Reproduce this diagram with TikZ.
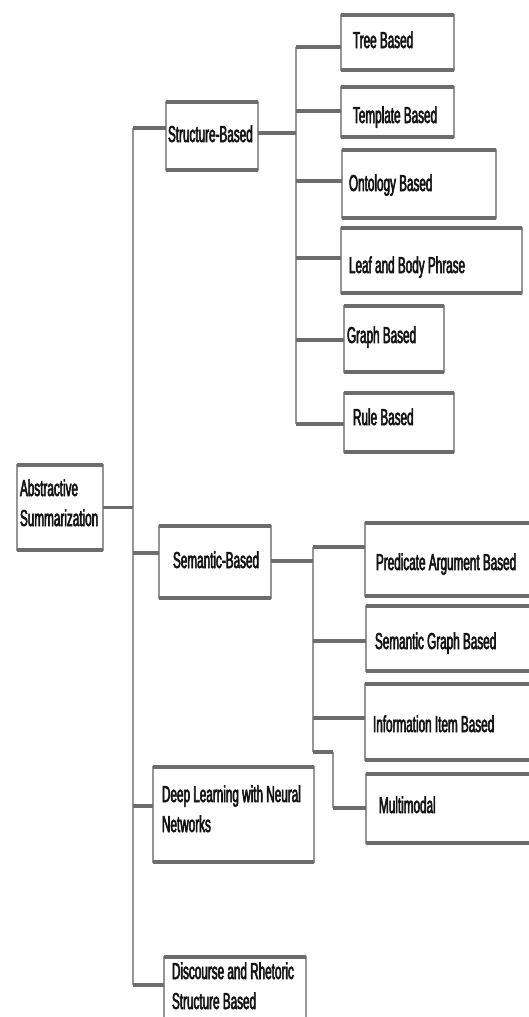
\documentclass[tikz,border=0pt]{standalone}
\usepackage{fontspec}
\setmainfont{Liberation Sans}[FakeStretch=0.51,FakeBold=2.5]
\definecolor{edgedark}{RGB}{108,108,108}
\definecolor{edgelight}{RGB}{150,150,150}
\definecolor{txt}{RGB}{20,20,20}
\tikzset{
  box/.style={draw=edgelight,line width=2pt,fill=white,rectangle,inner sep=0pt,outer sep=0pt},
  hedge/.style={draw=edgedark,line width=4pt,line cap=butt},
  hcon/.style={draw=edgedark,line width=3.5pt,line cap=butt},
  vcon/.style={draw=edgelight,line width=2pt,line cap=butt},
  lbl/.style={anchor=base west,inner sep=0pt,outer sep=0pt,text=txt,
    font=\fontsize{23}{30}\selectfont}
}
\newcommand{\twoline}[2]{\begin{tabular}[t]{@{}l@{}}#1\\#2\end{tabular}}
\begin{document}
\begin{tikzpicture}[x=1pt,y=-1pt]
\useasboundingbox (0,0) rectangle (529,1017);
\fill[white] (0,0) rectangle (529,1017);
\clip (0,0) rectangle (529,1017);

% trunk coordinates
\coordinate (tTop) at (133,128);
\coordinate (tAbs) at (133,507);
\coordinate (tSem) at (133,553);
\coordinate (tDeep) at (133,806);
\coordinate (tBot) at (133,985);
% structure branch coordinates
\coordinate (sJ) at (296,133);
\coordinate (sTree) at (296,47);
\coordinate (sTempl) at (296,111);
\coordinate (sOnto) at (296,181);
\coordinate (sLeaf) at (296,258);
\coordinate (sGraph) at (296,340);
\coordinate (sRule) at (296,424);
% semantic branch coordinates
\coordinate (mJ) at (313,561);
\coordinate (mPred) at (313,547);
\coordinate (mSemg) at (313,641);
\coordinate (mInfo) at (313,718);
\coordinate (mEnd) at (313,752);
\coordinate (mK1) at (333,752);
\coordinate (mK2) at (333,808);

% connectors
\draw[vcon] (tTop) -- (tBot);
\draw[vcon] (sTree) -- (sRule);
\draw[vcon] (mPred) -- (mEnd);
\draw[vcon] (mK1) -- (mK2);

% boxes
\foreach \n/\a/\b/\c/\d in {
  abs/17/465/103/550, struct/166/102/258/170, sem/159/526/271/598,
  deep/153/767/314/862, disc/164/957/306/1030,
  tree/341/15/454/70, templ/341/87/454/137, onto/342/150/496/218,
  leaf/341/228/522/293, graph/344/306/444/372, rule/344/393/454/452,
  pred/365/523/545/596, semg/366/606/545/671, info/365/684/545/760,
  multi/366/774/545/843}
{
  \node[box,minimum width={(\c-\a)*1pt},minimum height={(\d-\b)*1pt}] (\n) at ({(\a+\c)/2},{(\b+\d)/2}) {};
  \draw[hedge] (\n.north west) -- (\n.north east) (\n.south west) -- (\n.south east);
}

\draw[hcon] (abs.east) -- (abs.east -| tAbs);
\draw[hcon] (tTop) -- (tTop -| struct.west);
\draw[hcon] (tSem) -- (tSem -| sem.west);
\draw[hcon] (tDeep) -- (tDeep -| deep.west);
\draw[hcon] (tBot) -- (tBot -| disc.west);

\draw[hcon] (sJ -| struct.east) -- (sJ);
\draw[hcon] (sTree) -- (sTree -| tree.west);
\draw[hcon] (sTempl) -- (sTempl -| templ.west);
\draw[hcon] (sOnto) -- (sOnto -| onto.west);
\draw[hcon] (sLeaf) -- (sLeaf -| leaf.west);
\draw[hcon] (sGraph) -- (sGraph -| graph.west);
\draw[hcon] (sRule) -- (sRule -| rule.west);

\draw[hcon] (mJ -| sem.east) -- (mJ);
\draw[hcon] (mPred) -- (mPred -| pred.west);
\draw[hcon] (mSemg) -- (mSemg -| semg.west);
\draw[hcon] (mInfo) -- (mInfo -| info.west);
\draw[hcon] (mEnd) -- (mK1);
\draw[hcon] (mK2) -- (mK2 -| multi.west);

% labels
\node[lbl] (absT) at (20,496) {\twoline{Abstractive}{Summarization}};
\node[lbl] (structT) at (168,142) {Structure-Based};
\node[lbl] (semT) at (173,568) {Semantic-Based};
\node[lbl] (deepT) at (162,802) {\twoline{Deep Learning with Neural}{Networks}};
\node[lbl] (discT) at (172,979) {\twoline{Discourse and Rhetoric}{Structure Based}};
\node[lbl] (treeT) at (353,48) {Tree Based};
\node[lbl] (templT) at (353,123) {Template Based};
\node[lbl] (ontoT) at (349,191) {Ontology Based};
\node[lbl] (leafT) at (349,273) {Leaf and Body Phrase};
\node[lbl] (graphT) at (347,343) {Graph Based};
\node[lbl] (ruleT) at (353,425) {Rule Based};
\node[lbl] (predT) at (376,570) {Predicate Argument Based};
\node[lbl] (semgT) at (375,649) {Semantic Graph Based};
\node[lbl] (infoT) at (373,732) {Information Item Based};
\node[lbl] (multiT) at (379,813) {Multimodal};
\end{tikzpicture}
\end{document}
